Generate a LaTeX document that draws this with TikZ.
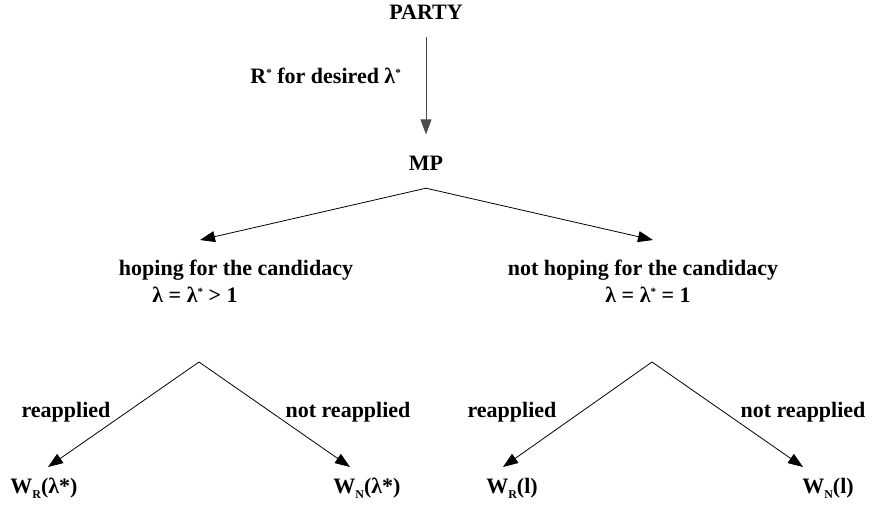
\documentclass[tikz,border=0pt]{standalone}
\usepackage{fontspec}
\setmainfont{Liberation Serif}
\usetikzlibrary{arrows.meta}

\newcommand{\lowidx}[1]{\raisebox{-5pt}{\fontsize{12}{12}\selectfont #1}}
\newcommand{\starmark}{\raisebox{7pt}{\fontsize{11}{11}\selectfont *}}

\tikzset{
    lbl/.style={font=\bfseries\fontsize{22}{26}\selectfont, inner sep=0pt, anchor=base},
    arr/.style={-{Triangle[length=15pt, width=11pt]}, line width=0.8pt},
}

\begin{document}
\begin{tikzpicture}[x=1pt, y=-1pt]
    \useasboundingbox (0,0) rectangle (874,508);

    % Party hands the list to the MP
    \node[lbl] (party) at (426,20) {PARTY};
    \node[lbl] (mp) at (426,170) {MP};
    \node[lbl, anchor=base east] (desired) at (401,84) {R\starmark{} for desired λ\starmark};
    \draw[arr, black!70, shorten <=17pt, shorten >=21pt] (party) -- (mp);

    % Two kinds of MP
    \coordinate (split) at ([yshift=-18pt]mp.south);
    \coordinate (hopetip) at (200,240);
    \coordinate (nothopetip) at (653,240);
    \draw[arr] (split) -- (hopetip);
    \draw[arr] (split) -- (nothopetip);

    \node[lbl] (hope) at (236,275) {hoping for the candidacy};
    \node[lbl] (hopeval) at (195,302) {λ = λ\starmark{} > 1};
    \node[lbl] (nothope) at (643,275) {not hoping for the candidacy};
    \node[lbl] (nothopeval) at (648,302) {λ = λ\starmark{} = 1};

    % Left tree
    \coordinate (forkL) at (199,362);
    \coordinate (tipLR) at (48,467);
    \coordinate (tipLN) at (350,467);
    \draw[arr] (forkL) -- (tipLR);
    \draw[arr] (forkL) -- (tipLN);
    \node[lbl] (reL) at (66,417) {reapplied};
    \node[lbl] (notreL) at (348,417) {not reapplied};
    \node[lbl] (wrl) at (44,493) {W\lowidx{R}(λ*)};
    \node[lbl] (wnl) at (367,493) {W\lowidx{N}(λ*)};

    % Right tree
    \coordinate (forkR) at (652,362);
    \coordinate (tipRR) at (503,467);
    \coordinate (tipRN) at (803,467);
    \draw[arr] (forkR) -- (tipRR);
    \draw[arr] (forkR) -- (tipRN);
    \node[lbl] (reR) at (512,417) {reapplied};
    \node[lbl] (notreR) at (803,417) {not reapplied};
    \node[lbl] (wrr) at (512,493) {W\lowidx{R}(l)};
    \node[lbl] (wnr) at (828,493) {W\lowidx{N}(l)};

\end{tikzpicture}
\end{document}
